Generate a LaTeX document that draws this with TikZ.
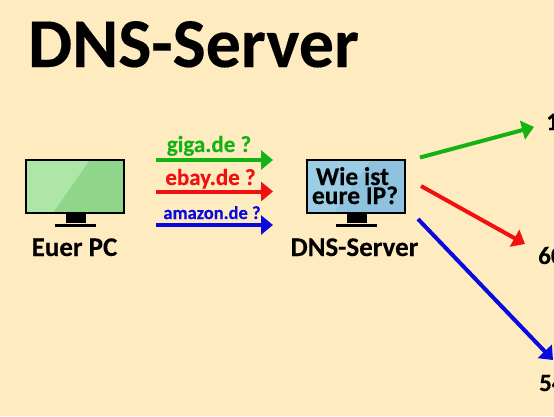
\documentclass[tikz,border=0pt]{standalone}
\usepackage{fontspec}
\setmainfont{Carlito}[BoldFeatures={FakeBold=0.25}]
\usetikzlibrary{arrows.meta}
\definecolor{bgc}{HTML}{FFEBC0}
\definecolor{gr}{HTML}{12B312}
\definecolor{re}{HTML}{F01010}
\definecolor{bl}{HTML}{0A0AE0}
\definecolor{gl}{HTML}{ADE6A6}
\definecolor{gd}{HTML}{8FD68A}
\definecolor{bll}{HTML}{9CCDE6}
\definecolor{bd}{HTML}{8FC2DE}
\tikzset{
  conn/.style={line width=4pt,-{Triangle[length=12pt,width=19pt]}},
  lbl/.style={font=\bfseries,inner sep=0pt,anchor=base},
}
\newcommand{\monitor}[6]{% x y light dark
  \fill[#3] (#1,#2) rectangle ++(98,53);
  \fill[#4] (#1+#5,#2+53) -- (#1+#6,#2) -- (#1+98,#2) -- (#1+98,#2+53) -- cycle;
  \draw[black,line width=2.6pt] (#1,#2) rectangle ++(98,53);
  \fill[black] (#1+40,#2+54) rectangle ++(20,9);
  \fill[black] (#1+29,#2+64) rectangle ++(41,3);
}
\begin{document}
\begin{tikzpicture}[x=1pt,y=-1pt]
\useasboundingbox (0,0) rectangle (554,416);
\clip (0,0) rectangle (554,416);
\fill[bgc] (0,0) rectangle (554,416);
\node[lbl,font=\bfseries\fontsize{70}{70}\selectfont] (title) at (193.5,67) {DNS-Server};
\monitor{26}{160}{gl}{gd}{27}{64}
\monitor{307}{160}{bll}{bd}{27}{64}
\node[lbl,font=\bfseries\fontsize{27}{27}\selectfont] (pc) at (74.5,256) {Euer PC};
\node[lbl,font=\bfseries\fontsize{27}{27}\selectfont] (dns) at (354.5,256) {DNS-Server};
\node[lbl,font=\bfseries\fontsize{25.5}{25.5}\selectfont] (q1) at (352.5,185) {Wie ist};
\node[lbl,font=\bfseries\fontsize{25.5}{25.5}\selectfont] (q2) at (355,204) {eure IP?};
\node[lbl,text=gr,font=\bfseries\fontsize{23}{23}\selectfont] (g) at (209,152) {giga.de ?};
\node[lbl,text=re,font=\bfseries\fontsize{23}{23}\selectfont] (e) at (210.5,185) {ebay.de ?};
\node[lbl,text=bl,font=\bfseries\fontsize{18.5}{18.5}\selectfont] (a) at (212,219) {amazon.de ?};
\node[lbl,font=\bfseries\fontsize{25}{25}\selectfont,anchor=base west] (t1) at (546,130) {1};
\node[lbl,font=\bfseries\fontsize{25}{25}\selectfont,anchor=base west] (t2) at (538,264) {60};
\node[lbl,font=\bfseries\fontsize{25}{25}\selectfont,anchor=base west] (t3) at (539,391) {54};
\coordinate (g0) at (156,160);
\coordinate (g1) at (273,160);
\coordinate (e0) at (156,191.5);
\coordinate (e1) at (273,191.5);
\coordinate (a0) at (156,225);
\coordinate (a1) at (273,225);
\coordinate (s1) at (420,157.5);
\coordinate (d1) at (534,127);
\coordinate (s2) at (421,186);
\coordinate (d2) at (525,244);
\coordinate (s3) at (418,219);
\coordinate (d3) at (553,360);
\draw[conn,gr] (g0) -- (g1);
\draw[conn,re] (e0) -- (e1);
\draw[conn,bl] (a0) -- (a1);
\draw[conn,gr] (s1) -- (d1);
\draw[conn,re] (s2) -- (d2);
\draw[conn,bl] (s3) -- (d3);
\end{tikzpicture}
\end{document}
